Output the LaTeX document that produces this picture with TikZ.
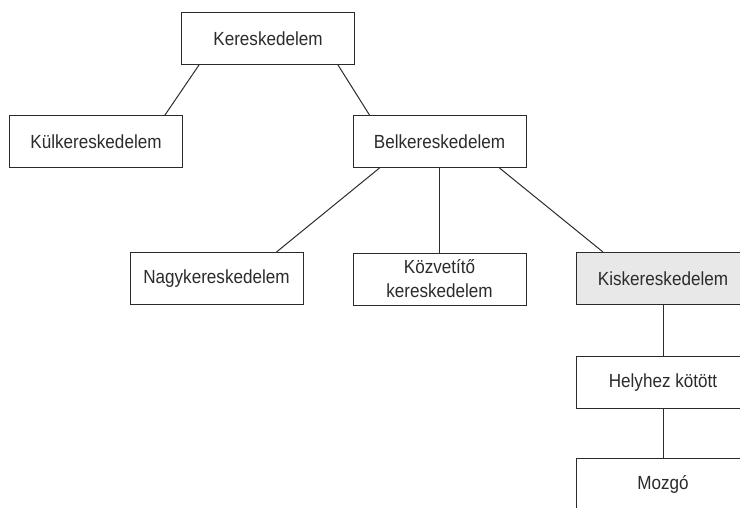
\documentclass[tikz,border=0pt]{standalone}
\usepackage{fontspec}
\setmainfont{Liberation Sans}[FakeStretch=0.9]
\definecolor{inkgray}{HTML}{2B2B2B}
\definecolor{shadegray}{HTML}{E8E8E8}
\tikzset{
	kbox/.style={draw=inkgray, line width=1pt, text=inkgray, fill=white,
		minimum width=173pt, minimum height=52pt, inner sep=0pt,
		align=center, font=\fontsize{19}{24}\selectfont},
	klink/.style={draw=inkgray, line width=1pt}
}
\begin{document}
\begin{tikzpicture}[x=1pt, y=-1pt]
	\clip (0,0) rectangle (740,507);
	% top level
	\node[kbox] (ker) at (268,38.5) {Kereskedelem};
	\node[kbox] (kul) at (96,141.5) {Külkereskedelem};
	\node[kbox] (bel) at (439.5,141.5) {Belkereskedelem};
	% belkereskedelem branches
	\node[kbox] (nagy) at (216.5,278.5) {Nagykereskedelem};
	\node[kbox] (kozv) at (439.5,279) {Közvetítő\\kereskedelem};
	\node[kbox, fill=shadegray] (kis) at (663,278.5) {Kiskereskedelem};
	% kiskereskedelem chain
	\node[kbox] (hely) at (663,382.5) {Helyhez kötött};
	\node[kbox] (mozgo) at (663,484.5) {Mozgó};
	\foreach \a/\sa/\b/\sb in {%
		ker/-69/kul/69,
		ker/70/bel/-70,
		bel/-60/nagy/60,
		bel/0/kozv/0,
		bel/60/kis/-60,
		kis/0/hely/0,
		hely/0/mozgo/0} {
		\draw[klink] ([xshift=\sa pt]\a.south) -- ([xshift=\sb pt]\b.north);
	}
\end{tikzpicture}
\end{document}
